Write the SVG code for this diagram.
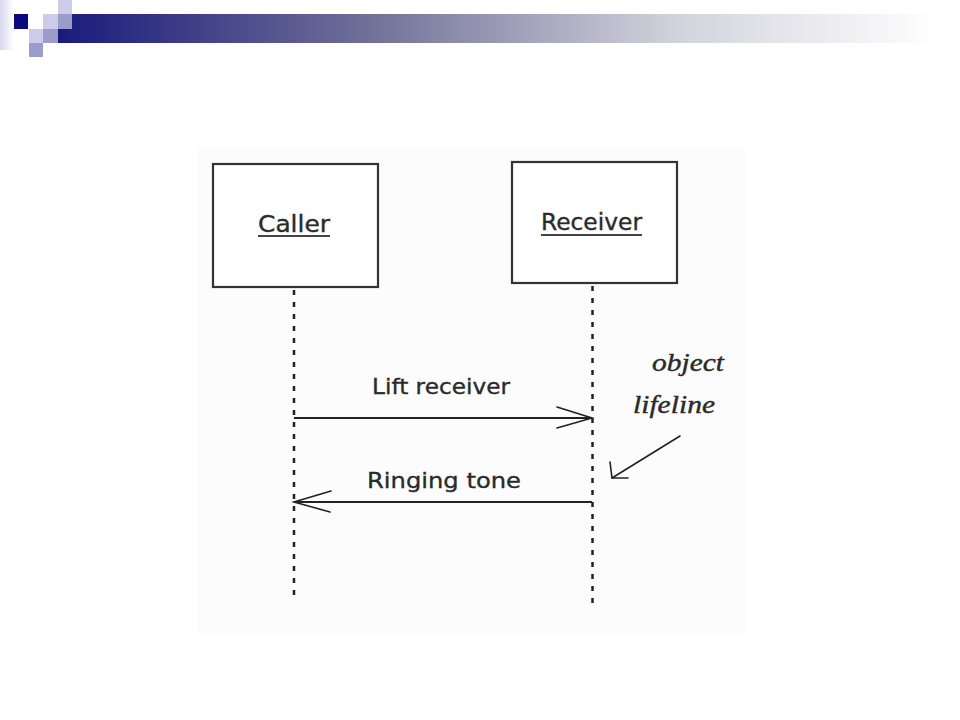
<svg xmlns="http://www.w3.org/2000/svg" width="960" height="720" viewBox="0 0 960 720">
  <defs>
    <linearGradient id="bar" x1="0" y1="0" x2="1" y2="0">
      <stop offset="0" stop-color="#1a1a7c"/>
      <stop offset="0.35" stop-color="#6f6f98"/>
      <stop offset="0.7" stop-color="#d2d2dc"/>
      <stop offset="1" stop-color="#ffffff"/>
    </linearGradient>
    <linearGradient id="edge" x1="0" y1="0" x2="1" y2="0">
      <stop offset="0" stop-color="#d8d8ee"/>
      <stop offset="1" stop-color="#ffffff"/>
    </linearGradient>
    <style>
      .box{fill:#fefefe;stroke:#333;stroke-width:2.2}
      .lbl{font-family:"DejaVu Sans","Liberation Sans",sans-serif;fill:#2a2a2a;stroke:#2a2a2a;stroke-width:0.35}
      .ul{stroke:#444;stroke-width:2}
      .life{stroke:#222;stroke-width:2.5;stroke-dasharray:5 7;fill:none}
      .msg{stroke:#222;stroke-width:1.8;fill:none}
      .head{stroke:#222;stroke-width:1.6;fill:none;stroke-linecap:round}
      .note{font-family:"Liberation Serif","DejaVu Serif",serif;font-style:italic;fill:#2a2a2a;stroke:#2a2a2a;stroke-width:0.4}
      .lite{fill:#ccccea}
      .mid{fill:#9c9ccc}
    </style>
  </defs>
  <rect width="960" height="720" fill="#ffffff"/>
  <g id="decoration">
    <rect x="0" y="0" width="14" height="50" fill="url(#edge)"/>
    <rect x="58" y="14" width="880" height="29" fill="url(#bar)"/>
    <rect x="14" y="14" width="14" height="15" fill="#0a0a80"/>
    <rect class="lite" x="43" y="14" width="15" height="15"/>
    <rect class="lite" x="58" y="0" width="14" height="14"/>
    <rect class="mid" x="58" y="14" width="14" height="15"/>
    <rect class="lite" x="29" y="29" width="14" height="14"/>
    <rect class="mid" x="43" y="29" width="15" height="14"/>
    <rect class="mid" x="29" y="43" width="14" height="14"/>
  </g>
  <rect x="197" y="148" width="549" height="486" fill="#fcfcfc"/>
  <g id="caller">
    <rect class="box" x="213" y="164" width="165" height="123"/>
    <text class="lbl" x="258" y="232" font-size="23" textLength="72" lengthAdjust="spacingAndGlyphs">Caller</text>
    <line class="ul" x1="258" y1="236" x2="330" y2="236"/>
  </g>
  <g id="receiver">
    <rect class="box" x="512" y="162" width="165" height="121"/>
    <text class="lbl" x="541" y="230" font-size="23" textLength="101" lengthAdjust="spacingAndGlyphs">Receiver</text>
    <line class="ul" x1="541" y1="235" x2="642" y2="235"/>
  </g>
  <g id="annotation">
    <text class="note" x="652" y="371" font-size="25" textLength="72" lengthAdjust="spacingAndGlyphs">object</text>
    <text class="note" x="633" y="413" font-size="25" textLength="82" lengthAdjust="spacingAndGlyphs">lifeline</text>
  </g>
  <g id="connectors">
    <line class="life" x1="294" y1="290" x2="294" y2="600"/>
    <line class="life" x1="592.5" y1="286" x2="592.5" y2="609"/>
    <line class="msg" x1="294" y1="418" x2="592" y2="418"/>
    <polyline class="head" points="557,407 592,418 557,428"/>
    <text class="lbl" x="372" y="394" font-size="22" textLength="138" lengthAdjust="spacingAndGlyphs">Lift receiver</text>
    <line class="msg" x1="592" y1="502" x2="294" y2="502"/>
    <polyline class="head" points="331,491 294,502 330,512"/>
    <text class="lbl" x="367" y="488" font-size="22" textLength="154" lengthAdjust="spacingAndGlyphs">Ringing tone</text>
    <line class="head" x1="680" y1="436" x2="612" y2="478"/>
    <polyline class="head" points="610,462 612,478 628,478"/>
  </g>
</svg>
